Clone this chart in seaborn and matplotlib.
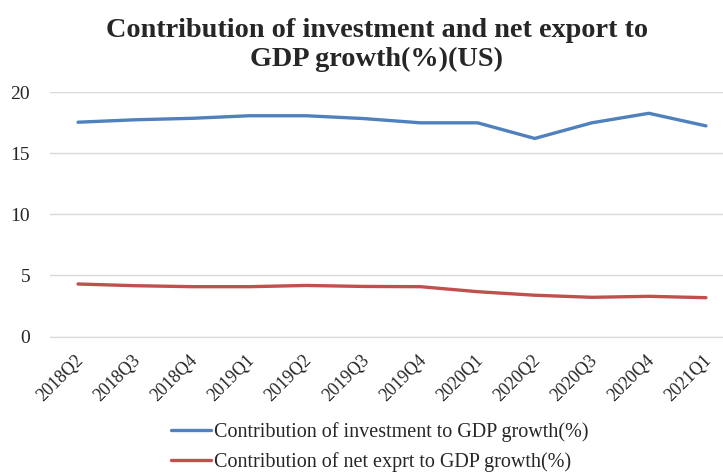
import matplotlib
matplotlib.use("Agg")
import matplotlib.pyplot as plt
import matplotlib.transforms as mtransforms
import seaborn as sns
import pandas as pd
from matplotlib.lines import Line2D

quarters = ["2018Q2", "2018Q3", "2018Q4", "2019Q1", "2019Q2", "2019Q3",
            "2019Q4", "2020Q1", "2020Q2", "2020Q3", "2020Q4", "2021Q1"]
investment = [17.55, 17.75, 17.87, 18.08, 18.08, 17.85, 17.5, 17.5, 16.22, 17.5, 18.28, 17.25]
net_export = [4.3, 4.16, 4.08, 4.08, 4.18, 4.1, 4.08, 3.67, 3.38, 3.21, 3.29, 3.18]
series_names = ["Contribution of investment to GDP growth(%)",
                "Contribution of net exprt to GDP growth(%)"]
yticks = [0, 5, 10, 15, 20]
title = "Contribution of investment and net export to\nGDP growth(%)(US)"

df = pd.DataFrame({
    "quarter": quarters * 2,
    "value": investment + net_export,
    "series": [series_names[0]] * len(quarters) + [series_names[1]] * len(quarters),
})

sns.set_style("white")
plt.rcParams["font.family"] = ["Liberation Serif", "DejaVu Serif"]

fig = plt.figure(figsize=(7.23, 4.73), dpi=100)
W, H = 723, 473
left, right = 49.5, 734.5
top, bottom = 92.3, 336.5
ax = fig.add_axes([left / W, 1 - bottom / H, (right - left) / W, (bottom - top) / H])

sns.lineplot(data=df, x="quarter", y="value", hue="series", sort=False,
             palette=["#4F81BD", "#C0504D"], linewidth=2.4, ax=ax, legend=False)

ax.set_xlim(-0.5, len(quarters) - 0.5)
ax.set_ylim(0, 20)
ax.set_yticks(yticks)
ax.set_yticklabels([str(t) for t in yticks], fontsize=14)
ax.set_xticks(range(len(quarters)))
ax.set_xticklabels(quarters, rotation=45, ha="right", rotation_mode="anchor", fontsize=13)
ax.tick_params(axis="y", length=0, pad=14)
ax.tick_params(axis="x", length=0, pad=11)
offset = mtransforms.ScaledTranslation(-3 / 100, 0, fig.dpi_scale_trans)
for lab in ax.get_xticklabels():
    lab.set_transform(lab.get_transform() + offset)
ax.grid(axis="y", color="#D9D9D9", linewidth=1)
ax.set_axisbelow(True)
for s in ["top", "right", "left"]:
    ax.spines[s].set_visible(False)
ax.spines["bottom"].set_color("#D9D9D9")
ax.set_xlabel("")
ax.set_ylabel("")

fig.text(377 / W, 1 - 45 / H, title, ha="center", va="center", fontsize=20.3,
         fontweight="bold", linespacing=1.2)

handles = [Line2D([], [], color="#4F81BD", lw=2.4), Line2D([], [], color="#C0504D", lw=2.4)]
fig.legend(handles, series_names, loc="center", bbox_to_anchor=(380 / W, 1 - 447.5 / H),
           ncol=1, frameon=False, fontsize=14.5, handlelength=2.0, handletextpad=0.15,
           labelspacing=0.5)

fig.savefig("out.png", dpi=100)
